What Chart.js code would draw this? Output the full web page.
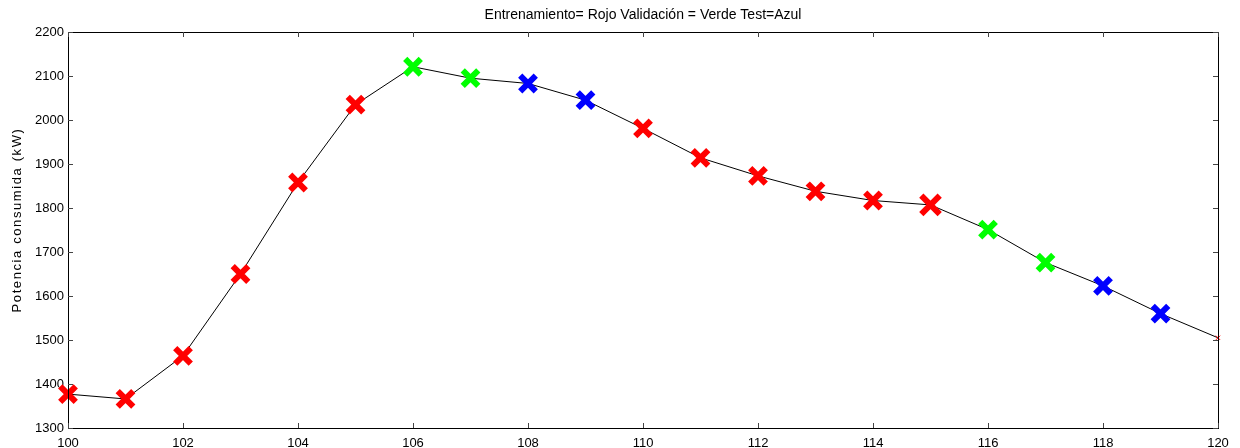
<!DOCTYPE html>
<html>
<head>
<meta charset="utf-8">
<script src="https://cdn.jsdelivr.net/npm/chart.js@4.4.0/dist/chart.umd.min.js"></script>
<style>
  html, body { margin: 0; padding: 0; background: #fff; }
  #wrap { width: 1240px; height: 448px; }
</style>
</head>
<body>
<div id="wrap"><canvas id="potenciaChart"></canvas></div>
<script>
// Datos
const muestras = [100, 101, 102, 103, 104, 105, 106, 107, 108, 109, 110,
                  111, 112, 113, 114, 115, 116, 117, 118, 119, 120];
const potencia = [1377, 1366, 1464, 1650, 1858, 2035, 2121, 2095, 2083, 2045, 1981,
                  1914, 1873, 1838, 1817, 1807, 1751, 1676, 1623, 1560, 1505];
// E = Entrenamiento, V = Validación, T = Test
const conjunto = ['E', 'E', 'E', 'E', 'E', 'E', 'V', 'V', 'T', 'T', 'E',
                  'E', 'E', 'E', 'E', 'E', 'V', 'V', 'T', 'T', 'E'];
const ticksX = [100, 102, 104, 106, 108, 110, 112, 114, 116, 118, 120];
const ticksY = [1300, 1400, 1500, 1600, 1700, 1800, 1900, 2000, 2100, 2200];

const titulo = 'Entrenamiento= Rojo Validación = Verde Test=Azul';
const tituloY = 'Potencia consumida (kW)';
const colores = { E: '#ff0000', V: '#00ff00', T: '#0000ff' };
const fuente = "'Liberation Sans', Arial, sans-serif";

// Títulos (el de arriba centrado sobre el área, el del eje Y girado)
const titulosPlugin = {
  id: 'titulosPlugin',
  afterDraw(chart) {
    const { ctx, chartArea } = chart;
    ctx.save();
    ctx.fillStyle = '#000';
    ctx.textAlign = 'center';
    ctx.textBaseline = 'middle';
    ctx.font = '14px ' + fuente;
    ctx.fillText(titulo, (chartArea.left + chartArea.right) / 2, 15);

    ctx.translate(17, 220);
    ctx.rotate(-Math.PI / 2);
    ctx.font = '13px ' + fuente;
    ctx.letterSpacing = '1.6px';
    ctx.fillText(tituloY, 0, 0);
    ctx.restore();
  }
};

// Caja y marcas hacia adentro, estilo MATLAB
const cajaPlugin = {
  id: 'cajaPlugin',
  afterDraw(chart) {
    const { ctx, chartArea: a, scales } = chart;
    const len = 5;
    ctx.save();
    ctx.strokeStyle = '#000';
    ctx.lineWidth = 1;
    ctx.strokeRect(a.left + 0.5, a.top + 0.5, a.right - a.left, a.bottom - a.top);
    ctx.strokeStyle = '#444';
    ctx.beginPath();
    ticksX.forEach(v => {
      const x = Math.round(scales.x.getPixelForValue(v)) + 0.5;
      ctx.moveTo(x, a.bottom); ctx.lineTo(x, a.bottom - len);
      ctx.moveTo(x, a.top); ctx.lineTo(x, a.top + len);
    });
    ticksY.forEach(v => {
      const y = Math.round(scales.y.getPixelForValue(v)) + 0.5;
      ctx.moveTo(a.left, y); ctx.lineTo(a.left + len, y);
      ctx.moveTo(a.right, y); ctx.lineTo(a.right - len, y);
    });
    ctx.stroke();
    ctx.restore();
  }
};

const ultimo = muestras.length - 1;
const radio = ctx => ctx.dataIndex === ultimo ? 3 : (ctx.dataIndex === 15 ? 13 : 11);

new Chart(document.getElementById('potenciaChart'), {
  type: 'line',
  data: {
    datasets: [{
      data: muestras.map((x, i) => ({ x: x, y: potencia[i] })),
      borderColor: '#000',
      borderWidth: 1,
      tension: 0,
      fill: false,
      clip: false,
      pointStyle: 'crossRot',
      pointBorderColor: conjunto.map(c => colores[c]),
      pointBackgroundColor: conjunto.map(c => colores[c]),
      pointRadius: radio,
      pointHoverRadius: radio,
      pointBorderWidth: ctx => ctx.dataIndex === ultimo ? 1 : 6
    }]
  },
  options: {
    responsive: true,
    maintainAspectRatio: false,
    animation: false,
    events: [],
    layout: { padding: { top: 32, right: 22, left: 0, bottom: 0 } },
    plugins: {
      legend: { display: false },
      tooltip: { enabled: false },
      title: { display: false }
    },
    scales: {
      x: {
        type: 'linear',
        min: 100,
        max: 120,
        afterBuildTicks: s => { s.ticks = ticksX.map(v => ({ value: v })); },
        afterFit: s => { s.height = 20; },
        grid: { display: false, drawTicks: false },
        border: { display: false },
        ticks: {
          color: '#000', padding: 8, maxRotation: 0,
          font: { family: fuente, size: 13 },
          callback: v => String(v)
        }
      },
      y: {
        min: 1300,
        max: 2200,
        afterBuildTicks: s => { s.ticks = ticksY.map(v => ({ value: v })); },
        afterFit: s => { s.width = 68; },
        grid: { display: false, drawTicks: false },
        border: { display: false },
        ticks: {
          color: '#000', padding: 4,
          font: { family: fuente, size: 13 },
          callback: v => String(v)
        }
      }
    }
  },
  plugins: [titulosPlugin, cajaPlugin]
});
</script>
</body>
</html>
